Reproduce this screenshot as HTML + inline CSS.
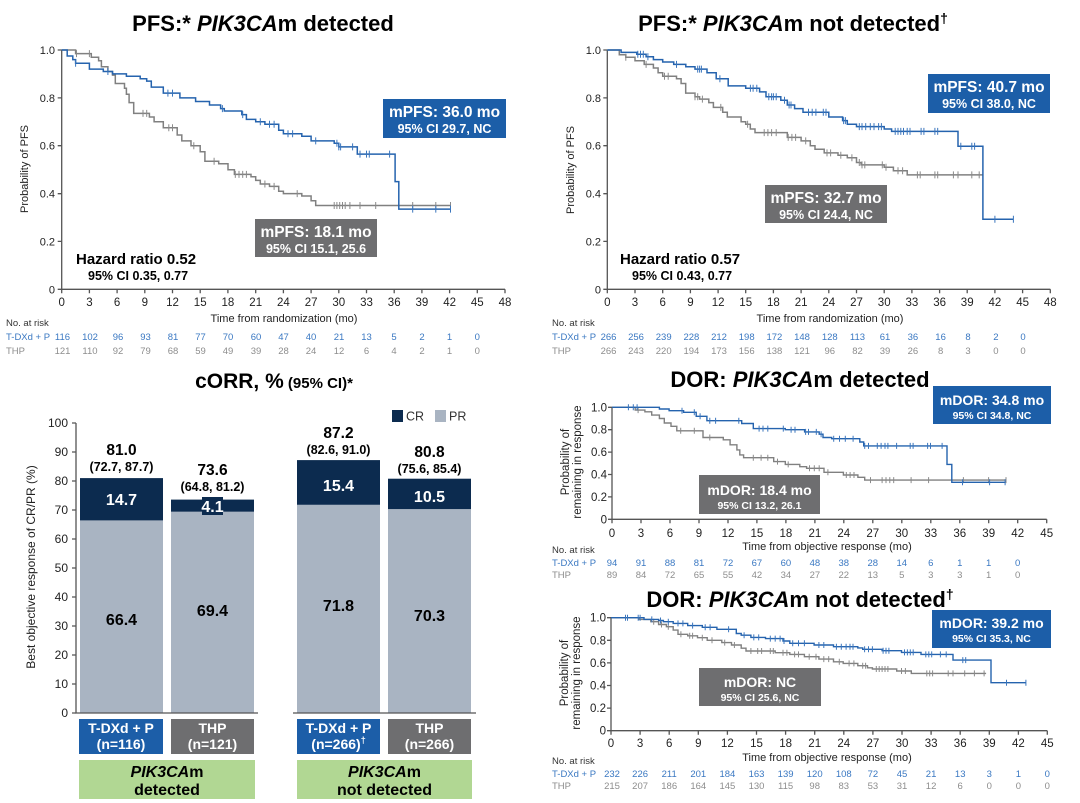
<!DOCTYPE html>
<html><head><meta charset="utf-8"><style>
html,body{margin:0;padding:0;background:#fff}
svg{display:block}
text{font-family:"Liberation Sans",Arial,sans-serif}
</style></head><body>
<svg width="1080" height="803" viewBox="0 0 1080 803" xmlns="http://www.w3.org/2000/svg">
<rect width="1080" height="803" fill="#fff"/>

<!-- ================= TOP LEFT PFS ================= -->
<text x="263" y="31" font-size="22" font-weight="bold" text-anchor="middle" fill="#000">PFS:* <tspan font-style="italic">PIK3CA</tspan>m detected</text>
<g stroke="#555" stroke-width="1.3" fill="none">
<path d="M61.7 50V289.3H505"/>
<path d="M57.7 50H61.7M57.7 97.9H61.7M57.7 145.7H61.7M57.7 193.7H61.7M57.7 241.4H61.7M57.7 289.3H61.7"/>
<path d="M61.7 289.3v4M89.4 289.3v4M117.1 289.3v4M144.8 289.3v4M172.5 289.3v4M200.2 289.3v4M227.9 289.3v4M255.7 289.3v4M283.4 289.3v4M311.1 289.3v4M338.8 289.3v4M366.5 289.3v4M394.2 289.3v4M421.9 289.3v4M449.6 289.3v4M477.3 289.3v4M505 289.3v4"/>
</g>
<g font-size="11" fill="#222" text-anchor="end">
<text x="55" y="54">1.0</text><text x="55" y="101.9">0.8</text><text x="55" y="149.7">0.6</text><text x="55" y="197.7">0.4</text><text x="55" y="245.4">0.2</text><text x="55" y="293.3">0</text>
</g>
<g font-size="11.5" fill="#222" text-anchor="middle">
<text x="61.7" y="306">0</text><text x="89.4" y="306">3</text><text x="117.1" y="306">6</text><text x="144.8" y="306">9</text><text x="172.5" y="306">12</text><text x="200.2" y="306">15</text><text x="227.9" y="306">18</text><text x="255.7" y="306">21</text><text x="283.4" y="306">24</text><text x="311.1" y="306">27</text><text x="338.8" y="306">30</text><text x="366.5" y="306">33</text><text x="394.2" y="306">36</text><text x="421.9" y="306">39</text><text x="449.6" y="306">42</text><text x="477.3" y="306">45</text><text x="505" y="306">48</text>
</g>
<text x="284" y="322" font-size="11" fill="#222" text-anchor="middle">Time from randomization (mo)</text>
<text transform="translate(28,169) rotate(-90)" font-size="11" fill="#222" text-anchor="middle">Probability of PFS</text>

<path fill="none" stroke="#808080" stroke-width="1.5" d="M61.7,50 H75.6 V53.6 H91.3 V57.2 H98.6 V60.8 H101.4 V66.8 H107.9 V71.5 H112.5 V75.1 H115.3 V83.5 H124.5 V88.3 H126.4 V94.3 H129.1 V102.6 H133.7 V113.4 H149.4 V117 H154.1 V121.8 H163.3 V127.8 H177.2 V135 H181.8 V140.9 H191 V145.7 H200.2 V151.7 H204.9 V161.3 H218.7 V163.7 H228 V169.7 H234.4 V174.4 H251 V176.8 H255.7 V180.4 H260.3 V184 H269.5 V186.4 H278.7 V191.2 H283.4 V193.6 H301.8 V196 H311.1 V200.8 H315.7 V205.5 H450.5"/>
<path fill="none" stroke="#8a8a8a" stroke-width="1" d="M76.5 50.1v7M89.4 50.1v7M143 109.9v7M146.7 109.9v7M168.8 124.3v7M172.5 124.3v7M193.8 142.2v7M214.1 157.8v7M235.3 170.9v7M239 170.9v7M242.7 170.9v7M246.4 170.9v7M264.9 180.5v7M274.1 182.9v7M297.2 190.1v7M334.2 202v7M336.9 202v7M339.7 202v7M342.5 202v7M345.2 202v7M349.9 202v7M360 202v7M375.7 202v7M412.7 202v7M435.8 202v7M450.5 202v7"/>
<path fill="none" stroke="#2563ae" stroke-width="1.5" d="M61.7,50 H67.2 V56 H72.8 V59.6 H75.6 V63.2 H89.4 V69.1 H103.3 V71.5 H112.5 V73.9 H126.4 V76.3 H140.2 V78.7 H146.7 V81.1 H151.3 V87.1 H163.3 V93.1 H179.9 V97.9 H195.6 V101.5 H209.5 V105 H220.6 V108.6 H224.3 V111 H241.8 V114.6 H246.4 V119.4 H255.7 V121.8 H264.9 V124.2 H278.7 V130.2 H283.4 V133.8 H301.8 V136.2 H311.1 V140.9 H334.2 V143.3 H338.8 V146.9 H357.3 V154.1 H395.1 V181.6 H398.8 V209.1 H450.5"/>
<path fill="none" stroke="#3b76bd" stroke-width="1" d="M75.6 59.7v7M107.9 68v7M167.9 89.6v7M172.5 89.6v7M222.4 105.1v7M242.7 111.1v7M260.3 118.3v7M269.5 120.7v7M274.1 120.7v7M288 130.3v7M292.6 130.3v7M315.7 137.4v7M336.9 139.8v7M338.8 143.4v7M340.6 143.4v7M352.6 143.4v7M360 150.6v7M366.5 150.6v7M369.3 150.6v7M389.6 150.6v7M412.7 205.6v7M435.8 205.6v7M450.5 205.6v7"/>

<rect x="383" y="99" width="123" height="39" fill="#1c5ea8"/>
<text x="444.5" y="117" font-size="15.5" font-weight="bold" fill="#fff" text-anchor="middle">mPFS: 36.0 mo</text>
<text x="444.5" y="133" font-size="12.5" font-weight="bold" fill="#fff" text-anchor="middle">95% CI 29.7, NC</text>
<rect x="255" y="219" width="122" height="38" fill="#6e6e70"/>
<text x="316" y="237" font-size="15.5" font-weight="bold" fill="#fff" text-anchor="middle">mPFS: 18.1 mo</text>
<text x="316" y="253" font-size="12.5" font-weight="bold" fill="#fff" text-anchor="middle">95% CI 15.1, 25.6</text>
<text x="76" y="264" font-size="15" font-weight="bold" fill="#000">Hazard ratio 0.52</text>
<text x="88" y="280" font-size="12.5" font-weight="bold" fill="#000">95% CI 0.35, 0.77</text>

<text x="6" y="326" font-size="9.5" fill="#333">No. at risk</text>
<text x="6" y="340" font-size="9.5" fill="#3a78c2">T-DXd + P</text>
<text x="6" y="354" font-size="9.5" fill="#8d8d8d">THP</text>
<g font-size="9.5" fill="#3a78c2" text-anchor="middle">
<text x="62.5" y="340">116</text><text x="90" y="340">102</text><text x="118" y="340">96</text><text x="145.5" y="340">93</text><text x="173" y="340">81</text><text x="200.5" y="340">77</text><text x="228" y="340">70</text><text x="256" y="340">60</text><text x="283.5" y="340">47</text><text x="311" y="340">40</text><text x="339" y="340">21</text><text x="366.5" y="340">13</text><text x="394" y="340">5</text><text x="422" y="340">2</text><text x="449.5" y="340">1</text><text x="477.3" y="340">0</text>
</g>
<g font-size="9.5" fill="#8d8d8d" text-anchor="middle">
<text x="62.5" y="354">121</text><text x="90" y="354">110</text><text x="118" y="354">92</text><text x="145.5" y="354">79</text><text x="173" y="354">68</text><text x="200.5" y="354">59</text><text x="228" y="354">49</text><text x="256" y="354">39</text><text x="283.5" y="354">28</text><text x="311" y="354">24</text><text x="339" y="354">12</text><text x="366.5" y="354">6</text><text x="394" y="354">4</text><text x="422" y="354">2</text><text x="449.5" y="354">1</text><text x="477.3" y="354">0</text>
</g>

<!-- ================= TOP RIGHT PFS ================= -->
<text x="793" y="31" font-size="22" font-weight="bold" text-anchor="middle" fill="#000">PFS:* <tspan font-style="italic">PIK3CA</tspan>m not detected<tspan font-size="14" dy="-8">†</tspan></text>
<g stroke="#555" stroke-width="1.3" fill="none">
<path d="M607.3 50V289.3H1050.3"/>
<path d="M603.3 50H607.3M603.3 97.9H607.3M603.3 145.7H607.3M603.3 193.7H607.3M603.3 241.4H607.3M603.3 289.3H607.3"/>
<path d="M607.3 289.3v4M635 289.3v4M662.7 289.3v4M690.4 289.3v4M718.1 289.3v4M745.7 289.3v4M773.4 289.3v4M801.1 289.3v4M828.8 289.3v4M856.5 289.3v4M884.2 289.3v4M911.9 289.3v4M939.6 289.3v4M967.2 289.3v4M994.9 289.3v4M1022.6 289.3v4M1050.3 289.3v4"/>
</g>
<g font-size="11" fill="#222" text-anchor="end">
<text x="601" y="54">1.0</text><text x="601" y="101.9">0.8</text><text x="601" y="149.7">0.6</text><text x="601" y="197.7">0.4</text><text x="601" y="245.4">0.2</text><text x="601" y="293.3">0</text>
</g>
<g font-size="11.5" fill="#222" text-anchor="middle">
<text x="607.3" y="306">0</text><text x="635" y="306">3</text><text x="662.7" y="306">6</text><text x="690.4" y="306">9</text><text x="718.1" y="306">12</text><text x="745.7" y="306">15</text><text x="773.4" y="306">18</text><text x="801.1" y="306">21</text><text x="828.8" y="306">24</text><text x="856.5" y="306">27</text><text x="884.2" y="306">30</text><text x="911.9" y="306">33</text><text x="939.6" y="306">36</text><text x="967.2" y="306">39</text><text x="994.9" y="306">42</text><text x="1022.6" y="306">45</text><text x="1050.3" y="306">48</text>
</g>
<text x="830" y="322" font-size="11" fill="#222" text-anchor="middle">Time from randomization (mo)</text>
<text transform="translate(574,170) rotate(-90)" font-size="11" fill="#222" text-anchor="middle">Probability of PFS</text>

<path fill="none" stroke="#808080" stroke-width="1.5" d="M607.3,50 H619.3 V54.8 H625.8 V57.2 H635 V60.8 H644.2 V64.4 H653.4 V68 H658.1 V72.7 H662.7 V76.3 H676.5 V78.7 H681.1 V83.5 H685.7 V93.1 H695 V96.7 H699.6 V99.1 H708.8 V102.6 H713.4 V107.4 H722.7 V112.2 H727.3 V117 H741.1 V121.8 H745.7 V124.2 H750.3 V129 H755 V132.6 H787.3 V137.4 H801.1 V140.9 H810.3 V145.7 H815 V149.3 H824.2 V152.9 H838 V155.3 H847.3 V157.7 H856.5 V162.5 H861.1 V164.9 H884.2 V167.3 H893.4 V170.8 H907.2 V174.9 H982.9"/>
<path fill="none" stroke="#8a8a8a" stroke-width="1" d="M625.8 53.7v7M646.1 60.9v7M664.5 72.8v7M668.2 72.8v7M695 93.2v7M697.7 93.2v7M702.4 95.6v7M720.8 103.9v7M747.6 120.7v7M764.2 129.1v7M767.9 129.1v7M771.6 129.1v7M776.2 129.1v7M788.2 133.9v7M791.9 133.9v7M795.6 133.9v7M805.7 137.4v7M827 149.4v7M830.6 149.4v7M840.8 151.8v7M851.9 154.2v7M859.3 159v7M862 161.4v7M864.8 161.4v7M882.3 161.4v7M886 163.8v7M898 167.3v7M902.6 167.3v7M917.4 171.4v7M920.2 171.4v7M934.9 171.4v7M937.7 171.4v7M953.4 171.4v7M958 171.4v7M971.8 171.4v7M979.2 171.4v7"/>
<path fill="none" stroke="#2563ae" stroke-width="1.5" d="M607.3,50 H621.1 V52.4 H636.8 V54.3 H646.1 V56.7 H653.4 V59.6 H662.7 V62 H673.7 V64.4 H685.8 V66.8 H695 V69.1 H707 V72.7 H716.2 V78.7 H728.2 V85.9 H745.7 V88.3 H759.6 V91.9 H766 V96.7 H780.8 V100.3 H787.3 V105 H794.6 V108.6 H803 V112.2 H828.8 V117 H842.6 V120.6 H847.3 V124.2 H856.5 V126.6 H884.2 V129 H891.6 V131.4 H958 V146.2 H982.9 V219.2 H1013.4"/>
<path fill="none" stroke="#3b76bd" stroke-width="1" d="M637.8 50.8v7M640.5 50.8v7M643.3 50.8v7M647.9 53.2v7M676.5 60.9v7M697.7 65.6v7M699.6 65.6v7M701.4 65.6v7M719.9 75.2v7M750.4 84.8v7M753.1 84.8v7M756.8 84.8v7M768.8 93.2v7M771.6 93.2v7M773.4 93.2v7M776.2 93.2v7M784.5 96.8v7M789.1 101.5v7M791 101.5v7M808.5 108.7v7M812.2 108.7v7M815.9 108.7v7M823.3 108.7v7M826 108.7v7M843.6 117.1v7M845.4 117.1v7M859.3 123.1v7M862 123.1v7M865.7 123.1v7M870.3 123.1v7M874 123.1v7M878.6 123.1v7M881.4 123.1v7M895.2 127.9v7M898 127.9v7M900.8 127.9v7M903.5 127.9v7M907.2 127.9v7M910 127.9v7M921.1 127.9v7M923.9 127.9v7M934.9 127.9v7M937.7 127.9v7M960.8 142.7v7M971.8 142.7v7M974.6 142.7v7M994.9 215.7v7M1013.4 215.7v7"/>

<rect x="928" y="74" width="122" height="39" fill="#1c5ea8"/>
<text x="989" y="92" font-size="15.5" font-weight="bold" fill="#fff" text-anchor="middle">mPFS: 40.7 mo</text>
<text x="989" y="108" font-size="12.5" font-weight="bold" fill="#fff" text-anchor="middle">95% CI 38.0, NC</text>
<rect x="765" y="185" width="122" height="38" fill="#6e6e70"/>
<text x="826" y="203" font-size="15.5" font-weight="bold" fill="#fff" text-anchor="middle">mPFS: 32.7 mo</text>
<text x="826" y="219" font-size="12.5" font-weight="bold" fill="#fff" text-anchor="middle">95% CI 24.4, NC</text>
<text x="620" y="264" font-size="15" font-weight="bold" fill="#000">Hazard ratio 0.57</text>
<text x="632" y="280" font-size="12.5" font-weight="bold" fill="#000">95% CI 0.43, 0.77</text>

<text x="552" y="326" font-size="9.5" fill="#333">No. at risk</text>
<text x="552" y="340" font-size="9.5" fill="#3a78c2">T-DXd + P</text>
<text x="552" y="354" font-size="9.5" fill="#8d8d8d">THP</text>
<g font-size="9.5" fill="#3a78c2" text-anchor="middle">
<text x="608.5" y="340">266</text><text x="636" y="340">256</text><text x="663.7" y="340">239</text><text x="691.4" y="340">228</text><text x="719" y="340">212</text><text x="746.7" y="340">198</text><text x="774.4" y="340">172</text><text x="802" y="340">148</text><text x="829.8" y="340">128</text><text x="857.5" y="340">113</text><text x="885" y="340">61</text><text x="912.9" y="340">36</text><text x="940.6" y="340">16</text><text x="968" y="340">8</text><text x="995.9" y="340">2</text><text x="1023" y="340">0</text>
</g>
<g font-size="9.5" fill="#8d8d8d" text-anchor="middle">
<text x="608.5" y="354">266</text><text x="636" y="354">243</text><text x="663.7" y="354">220</text><text x="691.4" y="354">194</text><text x="719" y="354">173</text><text x="746.7" y="354">156</text><text x="774.4" y="354">138</text><text x="802" y="354">121</text><text x="829.8" y="354">96</text><text x="857.5" y="354">82</text><text x="885" y="354">39</text><text x="912.9" y="354">26</text><text x="940.6" y="354">8</text><text x="968" y="354">3</text><text x="995.9" y="354">0</text><text x="1023" y="354">0</text>
</g>

<!-- ================= BAR CHART ================= -->
<text x="274" y="388" font-weight="bold" fill="#000" text-anchor="middle"><tspan font-size="21">cORR, %</tspan><tspan font-size="15"> (95% CI)*</tspan></text>
<rect x="392" y="410" width="11" height="12" fill="#0c2b4f"/>
<text x="406" y="420.5" font-size="12.5" fill="#333">CR</text>
<rect x="435" y="410" width="11" height="12" fill="#a9b4c2"/>
<text x="449" y="420.5" font-size="12.5" fill="#333">PR</text>

<rect x="80" y="520.4" width="83" height="192.6" fill="#a9b4c2"/>
<rect x="80" y="478.1" width="83" height="42.3" fill="#0c2b4f"/>
<rect x="171" y="511.7" width="83" height="201.3" fill="#a9b4c2"/>
<rect x="171" y="499.6" width="83" height="12.1" fill="#0c2b4f"/>
<rect x="297" y="504.8" width="83" height="208.2" fill="#a9b4c2"/>
<rect x="297" y="460.1" width="83" height="44.7" fill="#0c2b4f"/>
<rect x="388" y="509.1" width="83" height="203.9" fill="#a9b4c2"/>
<rect x="388" y="478.7" width="83" height="30.4" fill="#0c2b4f"/>

<g stroke="#555" stroke-width="1.3" fill="none">
<path d="M76 423V713H258M293 713H476"/>
<path d="M72 423H76M72 452H76M72 481H76M72 510H76M72 539H76M72 568H76M72 597H76M72 626H76M72 655H76M72 684H76M72 713H76"/>
</g>
<g font-size="12" fill="#222" text-anchor="end">
<text x="68" y="427">100</text><text x="68" y="456">90</text><text x="68" y="485">80</text><text x="68" y="514">70</text><text x="68" y="543">60</text><text x="68" y="572">50</text><text x="68" y="601">40</text><text x="68" y="630">30</text><text x="68" y="659">20</text><text x="68" y="688">10</text><text x="68" y="717">0</text>
</g>
<text transform="translate(35,567) rotate(-90)" font-size="12" fill="#222" text-anchor="middle">Best objective response of CR/PR (%)</text>

<g font-weight="bold" fill="#000" text-anchor="middle">
<text x="121.5" y="455" font-size="15.5">81.0</text>
<text x="121.5" y="471" font-size="12.5">(72.7, 87.7)</text>
<text x="212.5" y="475" font-size="15.5">73.6</text>
<text x="212.5" y="491" font-size="12.5">(64.8, 81.2)</text>
<text x="338.5" y="438" font-size="15.5">87.2</text>
<text x="338.5" y="454" font-size="12.5">(82.6, 91.0)</text>
<text x="429.5" y="457" font-size="15.5">80.8</text>
<text x="429.5" y="473" font-size="12.5">(75.6, 85.4)</text>
<text x="121.5" y="625" font-size="16">66.4</text>
<text x="212.5" y="616" font-size="16">69.4</text>
<text x="338.5" y="611" font-size="16">71.8</text>
<text x="429.5" y="621" font-size="16">70.3</text>
</g>
<rect x="202" y="497" width="21" height="18" fill="#0c2b4f"/>
<g font-weight="bold" fill="#fff" text-anchor="middle" font-size="16">
<text x="121.5" y="505">14.7</text>
<text x="212.5" y="512">4.1</text>
<text x="338.5" y="491">15.4</text>
<text x="429.5" y="502">10.5</text>
</g>

<rect x="79" y="719" width="84" height="35" fill="#1c5ea8"/>
<rect x="171" y="719" width="83" height="35" fill="#6e6e70"/>
<rect x="297" y="719" width="83" height="35" fill="#1c5ea8"/>
<rect x="388" y="719" width="83" height="35" fill="#6e6e70"/>
<g font-weight="bold" fill="#fff" text-anchor="middle" font-size="14">
<text x="121" y="733">T-DXd + P</text><text x="121" y="749">(n=116)</text>
<text x="212.5" y="733">THP</text><text x="212.5" y="749">(n=121)</text>
<text x="338.5" y="733">T-DXd + P</text><text x="338.5" y="749">(n=266)<tspan font-size="9" dy="-6">†</tspan></text>
<text x="429.5" y="733">THP</text><text x="429.5" y="749">(n=266)</text>
</g>
<rect x="79" y="760" width="176" height="39" fill="#b1d793"/>
<rect x="297" y="760" width="175" height="39" fill="#b1d793"/>
<g font-weight="bold" fill="#000" text-anchor="middle" font-size="16">
<text x="167" y="777"><tspan font-style="italic">PIK3CA</tspan>m</text>
<text x="167" y="795">detected</text>
<text x="384.5" y="777"><tspan font-style="italic">PIK3CA</tspan>m</text>
<text x="384.5" y="795">not detected</text>
</g>

<!-- ================= DOR TOP ================= -->
<text x="800" y="387" font-size="22" font-weight="bold" text-anchor="middle" fill="#000">DOR: <tspan font-style="italic">PIK3CA</tspan>m detected</text>
<g stroke="#555" stroke-width="1.3" fill="none">
<path d="M612 407.3V519.3H1046.7"/>
<path d="M608 407.3H612M608 429.7H612M608 452.1H612M608 474.5H612M608 496.9H612M608 519.3H612"/>
<path d="M612 519.3v4M641 519.3v4M670 519.3v4M699 519.3v4M728 519.3v4M756.9 519.3v4M785.9 519.3v4M814.9 519.3v4M843.8 519.3v4M872.8 519.3v4M901.8 519.3v4M930.8 519.3v4M959.8 519.3v4M988.7 519.3v4M1017.7 519.3v4M1046.7 519.3v4"/>
</g>
<g font-size="11.5" fill="#222" text-anchor="end">
<text x="607" y="411.3">1.0</text><text x="607" y="433.7">0.8</text><text x="607" y="456.1">0.6</text><text x="607" y="478.5">0.4</text><text x="607" y="500.9">0.2</text><text x="607" y="523.3">0</text>
</g>
<g font-size="11.5" fill="#222" text-anchor="middle">
<text x="612" y="537">0</text><text x="641" y="537">3</text><text x="670" y="537">6</text><text x="699" y="537">9</text><text x="728" y="537">12</text><text x="756.9" y="537">15</text><text x="785.9" y="537">18</text><text x="814.9" y="537">21</text><text x="843.8" y="537">24</text><text x="872.8" y="537">27</text><text x="901.8" y="537">30</text><text x="930.8" y="537">33</text><text x="959.8" y="537">36</text><text x="988.7" y="537">39</text><text x="1017.7" y="537">42</text><text x="1046.7" y="537">45</text>
</g>
<text x="827" y="550" font-size="11" fill="#222" text-anchor="middle">Time from objective response (mo)</text>
<text transform="translate(569,462) rotate(-90)" font-size="11.5" fill="#222" text-anchor="middle">Probability of</text>
<text transform="translate(581,462) rotate(-90)" font-size="11.5" fill="#222" text-anchor="middle">remaining in response</text>

<path fill="none" stroke="#808080" stroke-width="1.4" d="M612,407.3 H635.2 V410.1 H644.9 V411.8 H651.7 V415.1 H659.4 V418.5 H664.3 V423 H671 V426.3 H676.8 V430.8 H703 V437.5 H723.3 V439.8 H730.1 V444.8 H736.9 V449.9 H739.8 V454.9 H743.6 V457.7 H773.7 V461.6 H785.3 V464.4 H799.8 V466.7 H806.6 V468.3 H824 V472.3 H843.4 V475 H857.9 V477.3 H864.7 V480.1 H1006"/>
<path fill="none" stroke="#8a8a8a" stroke-width="1" d="M638.1 407.1v6M680.7 427.8v6M694.3 427.8v6M709.8 434.5v6M753.3 454.7v6M761.1 454.7v6M767.8 454.7v6M777.5 458.6v6M788.2 461.4v6M809.5 465.3v6M814.3 465.3v6M819.2 465.3v6M827.9 469.3v6M846.3 472v6M850.1 472v6M854 472v6M870.5 477.1v6M882.1 477.1v6M886 477.1v6M889.8 477.1v6M893.7 477.1v6M911.1 477.1v6M928.6 477.1v6M963.4 477.1v6M988.6 477.1v6M1006 477.1v6"/>
<path fill="none" stroke="#2563ae" stroke-width="1.4" d="M612,407.3 H659.4 V409 H669.1 V410.7 H683.6 V412.3 H696.2 V416.3 H706.9 V420.7 H741.7 V423.5 H753.3 V428.6 H785.3 V429.7 H804.6 V431.9 H819.2 V434.2 H823 V437.5 H831.7 V438.7 H859.8 V442 H863.7 V445.9 H947 V464.4 H951.8 V482.3 H1005.1"/>
<path fill="none" stroke="#3b76bd" stroke-width="1" d="M628.4 404.3v6M633.3 404.3v6M637.1 404.3v6M682 407.7v6M694.3 409.3v6M700.1 413.3v6M709.8 417.7v6M715.6 417.7v6M738.8 417.7v6M759.1 425.6v6M763 425.6v6M767.8 425.6v6M783.3 425.6v6M791.1 426.7v6M795 426.7v6M805.6 428.9v6M808.5 428.9v6M816.3 428.9v6M821.1 431.2v6M833.7 435.7v6M839.5 435.7v6M845.3 435.7v6M853.1 435.7v6M864.7 442.9v6M868.5 442.9v6M877.3 442.9v6M881.1 442.9v6M885 442.9v6M887.9 442.9v6M896.6 442.9v6M910.2 442.9v6M913.1 442.9v6M927.6 442.9v6M930.5 442.9v6M942.1 442.9v6M962.5 479.3v6M989.6 479.3v6M1005.1 479.3v6"/>

<rect x="933" y="386" width="118" height="38" fill="#1c5ea8"/>
<text x="992" y="405" font-size="14" font-weight="bold" fill="#fff" text-anchor="middle">mDOR: 34.8 mo</text>
<text x="992" y="419" font-size="10.5" font-weight="bold" fill="#fff" text-anchor="middle">95% CI 34.8, NC</text>
<rect x="699" y="475" width="121" height="39" fill="#6e6e70"/>
<text x="759.5" y="495" font-size="14" font-weight="bold" fill="#fff" text-anchor="middle">mDOR: 18.4 mo</text>
<text x="759.5" y="509" font-size="10.5" font-weight="bold" fill="#fff" text-anchor="middle">95% CI 13.2, 26.1</text>

<text x="552" y="553" font-size="9.5" fill="#333">No. at risk</text>
<text x="552" y="566" font-size="9.5" fill="#3a78c2">T-DXd + P</text>
<text x="552" y="578" font-size="9.5" fill="#8d8d8d">THP</text>
<g font-size="9.5" fill="#3a78c2" text-anchor="middle">
<text x="612" y="566">94</text><text x="641" y="566">91</text><text x="670" y="566">88</text><text x="699" y="566">81</text><text x="728" y="566">72</text><text x="756.9" y="566">67</text><text x="785.9" y="566">60</text><text x="814.9" y="566">48</text><text x="843.8" y="566">38</text><text x="872.8" y="566">28</text><text x="901.8" y="566">14</text><text x="930.8" y="566">6</text><text x="959.8" y="566">1</text><text x="988.7" y="566">1</text><text x="1017.7" y="566">0</text>
</g>
<g font-size="9.5" fill="#8d8d8d" text-anchor="middle">
<text x="612" y="578">89</text><text x="641" y="578">84</text><text x="670" y="578">72</text><text x="699" y="578">65</text><text x="728" y="578">55</text><text x="756.9" y="578">42</text><text x="785.9" y="578">34</text><text x="814.9" y="578">27</text><text x="843.8" y="578">22</text><text x="872.8" y="578">13</text><text x="901.8" y="578">5</text><text x="930.8" y="578">3</text><text x="959.8" y="578">3</text><text x="988.7" y="578">1</text><text x="1017.7" y="578">0</text>
</g>

<!-- ================= DOR BOTTOM ================= -->
<text x="800" y="607" font-size="22" font-weight="bold" text-anchor="middle" fill="#000">DOR: <tspan font-style="italic">PIK3CA</tspan>m not detected<tspan font-size="14" dy="-8">†</tspan></text>
<g stroke="#555" stroke-width="1.3" fill="none">
<path d="M611 617.7V730.7H1047.3"/>
<path d="M607 617.7H611M607 640.3H611M607 662.9H611M607 685.5H611M607 708.1H611M607 730.7H611"/>
<path d="M611 730.7v4M640.1 730.7v4M669.2 730.7v4M698.3 730.7v4M727.4 730.7v4M756.5 730.7v4M785.6 730.7v4M814.7 730.7v4M843.8 730.7v4M872.9 730.7v4M902 730.7v4M931.1 730.7v4M960.2 730.7v4M989.3 730.7v4M1018.4 730.7v4M1047.3 730.7v4"/>
</g>
<g font-size="11.5" fill="#222" text-anchor="end">
<text x="606" y="621.7">1.0</text><text x="606" y="644.3">0.8</text><text x="606" y="666.9">0.6</text><text x="606" y="689.5">0.4</text><text x="606" y="712.1">0.2</text><text x="606" y="734.7">0</text>
</g>
<g font-size="11.5" fill="#222" text-anchor="middle">
<text x="611" y="747">0</text><text x="640.1" y="747">3</text><text x="669.2" y="747">6</text><text x="698.3" y="747">9</text><text x="727.4" y="747">12</text><text x="756.5" y="747">15</text><text x="785.6" y="747">18</text><text x="814.7" y="747">21</text><text x="843.8" y="747">24</text><text x="872.9" y="747">27</text><text x="902" y="747">30</text><text x="931.1" y="747">33</text><text x="960.2" y="747">36</text><text x="989.3" y="747">39</text><text x="1018.4" y="747">42</text><text x="1047.3" y="747">45</text>
</g>
<text x="827" y="761" font-size="11" fill="#222" text-anchor="middle">Time from objective response (mo)</text>
<text transform="translate(568,673) rotate(-90)" font-size="11.5" fill="#222" text-anchor="middle">Probability of</text>
<text transform="translate(580,673) rotate(-90)" font-size="11.5" fill="#222" text-anchor="middle">remaining in response</text>

<path fill="none" stroke="#808080" stroke-width="1.4" d="M611,617.7 H639.2 V619.4 H650.8 V621.7 H658.6 V624.5 H666.4 V626.7 H673.2 V630.1 H678 V634.3 H687.7 V635.8 H697.5 V637.7 H707.2 V640.3 H721.8 V642.6 H731.5 V645 H741.2 V648.2 H746 V651 H775.2 V652.7 H789.8 V654.4 H804.4 V656.7 H818.9 V659.1 H833.5 V661.8 H843.2 V663.4 H857.8 V665.7 H867.5 V667.8 H872.4 V669 H896.7 V671 H911.3 V673.4 H986.1"/>
<path fill="none" stroke="#8a8a8a" stroke-width="1" d="M653.7 618.7v6M661.5 621.5v6M668.3 623.7v6M680.9 631.3v6M689.7 632.8v6M692.6 632.8v6M702.3 634.7v6M712 637.3v6M724.7 639.6v6M734.4 642v6M750.9 648v6M757.7 648v6M761.6 648v6M770.3 648v6M773.3 648v6M783 649.7v6M786.9 649.7v6M794.6 651.4v6M798.5 651.4v6M809.2 653.7v6M816 653.7v6M823.8 656.1v6M828.7 656.1v6M839.3 658.8v6M849.1 660.4v6M853.9 660.4v6M862.7 662.7v6M865.6 662.7v6M876.3 666v6M879.2 666v6M882.1 666v6M885 666v6M887.9 666v6M901.5 668v6M905.4 668v6M926.8 670.4v6M929.7 670.4v6M932.6 670.4v6M948.2 670.4v6M953 670.4v6M964.7 670.4v6M974.4 670.4v6M984.1 670.4v6"/>
<path fill="none" stroke="#2563ae" stroke-width="1.4" d="M611,617.7 H644 V619.4 H658.6 V620.5 H663.4 V621.7 H673.2 V623.4 H687.7 V625.6 H702.3 V627.3 H716.9 V629.3 H736.3 V633.5 H741.2 V635.2 H750.9 V637.4 H765.5 V638.6 H783 V641 H789.8 V643.3 H814.1 V645 H833.5 V646.7 H857.8 V647.9 H862.7 V649.3 H882.1 V650.7 H901.5 V652.4 H921 V654.4 H953 V660.1 H991 V682.7 H1025.9"/>
<path fill="none" stroke="#3b76bd" stroke-width="1" d="M625.5 614.7v6M627.5 614.7v6M638.2 614.7v6M640.1 614.7v6M651.8 616.4v6M660.5 617.5v6M668.3 618.7v6M678 620.4v6M682.9 620.4v6M692.6 622.6v6M705.2 624.3v6M710.1 624.3v6M728.6 626.3v6M744.1 632.2v6M753.8 634.4v6M758.7 634.4v6M770.3 635.6v6M775.2 635.6v6M780.1 635.6v6M784 638v6M792.7 640.3v6M798.5 640.3v6M804.4 640.3v6M818.9 642v6M823.8 642v6M836.4 643.7v6M841.3 643.7v6M846.1 643.7v6M850 643.7v6M853 643.7v6M864.6 646.3v6M868.5 646.3v6M872.4 646.3v6M883.1 647.7v6M886 647.7v6M888.9 647.7v6M904.5 649.4v6M907.4 649.4v6M910.3 649.4v6M913.2 649.4v6M925.8 651.4v6M928.8 651.4v6M931.7 651.4v6M940.4 651.4v6M946.2 651.4v6M962.8 657.1v6M965.7 657.1v6M1006.5 679.7v6M1025.9 679.7v6"/>

<rect x="932" y="610" width="119" height="38" fill="#1c5ea8"/>
<text x="991.5" y="628" font-size="14" font-weight="bold" fill="#fff" text-anchor="middle">mDOR: 39.2 mo</text>
<text x="991.5" y="642" font-size="10.5" font-weight="bold" fill="#fff" text-anchor="middle">95% CI 35.3, NC</text>
<rect x="699" y="668" width="122" height="38" fill="#6e6e70"/>
<text x="760" y="687" font-size="14" font-weight="bold" fill="#fff" text-anchor="middle">mDOR: NC</text>
<text x="760" y="701" font-size="10.5" font-weight="bold" fill="#fff" text-anchor="middle">95% CI 25.6, NC</text>

<text x="552" y="764" font-size="9.5" fill="#333">No. at risk</text>
<text x="552" y="777" font-size="9.5" fill="#3a78c2">T-DXd + P</text>
<text x="552" y="789" font-size="9.5" fill="#8d8d8d">THP</text>
<g font-size="9.5" fill="#3a78c2" text-anchor="middle">
<text x="612" y="777">232</text><text x="640.1" y="777">226</text><text x="669.2" y="777">211</text><text x="698.3" y="777">201</text><text x="727.4" y="777">184</text><text x="756.5" y="777">163</text><text x="785.6" y="777">139</text><text x="814.7" y="777">120</text><text x="843.8" y="777">108</text><text x="872.9" y="777">72</text><text x="902" y="777">45</text><text x="931.1" y="777">21</text><text x="960.2" y="777">13</text><text x="989.3" y="777">3</text><text x="1018.4" y="777">1</text><text x="1047.3" y="777">0</text>
</g>
<g font-size="9.5" fill="#8d8d8d" text-anchor="middle">
<text x="612" y="789">215</text><text x="640.1" y="789">207</text><text x="669.2" y="789">186</text><text x="698.3" y="789">164</text><text x="727.4" y="789">145</text><text x="756.5" y="789">130</text><text x="785.6" y="789">115</text><text x="814.7" y="789">98</text><text x="843.8" y="789">83</text><text x="872.9" y="789">53</text><text x="902" y="789">31</text><text x="931.1" y="789">12</text><text x="960.2" y="789">6</text><text x="989.3" y="789">0</text><text x="1018.4" y="789">0</text><text x="1047.3" y="789">0</text>
</g>
</svg>
</body></html>
